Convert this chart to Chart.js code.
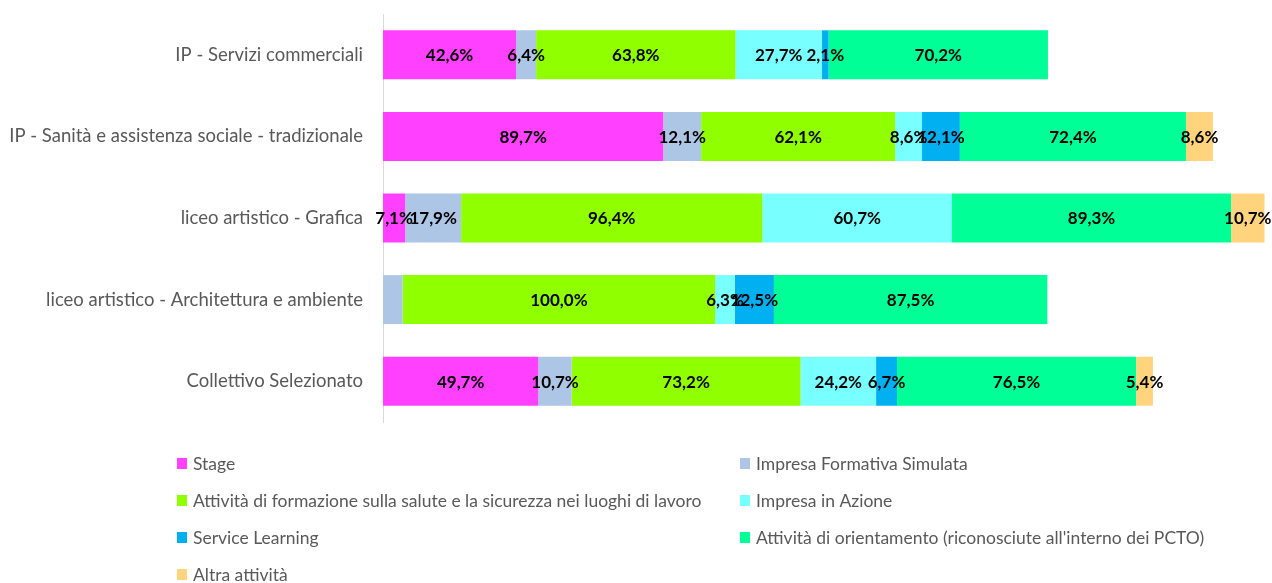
<!DOCTYPE html>
<html>
<head>
<meta charset="utf-8">
<script src="https://cdn.jsdelivr.net/npm/chart.js@4/dist/chart.umd.min.js"></script>
<style>
  html, body { margin: 0; padding: 0; background: #ffffff; }
  #wrap { width: 1272px; height: 583px; position: relative; }
</style>
</head>
<body>
<div id="wrap"><canvas id="c" width="1272" height="583"></canvas></div>
<script>
// Percorsi PCTO per indirizzo di studio (percentuali, possibile risposta multipla)
const categories = [
  'IP - Servizi commerciali',
  'IP - Sanità e assistenza sociale - tradizionale',
  'liceo artistico - Grafica',
  'liceo artistico - Architettura e ambiente',
  'Collettivo Selezionato'
];

const seriesNames = [
  'Stage',
  'Impresa Formativa Simulata',
  'Attività di formazione sulla salute e la sicurezza nei luoghi di lavoro',
  'Impresa in Azione',
  'Service Learning',
  "Attività di orientamento (riconosciute all'interno dei PCTO)",
  'Altra attività'
];

const stage          = [42.6, 89.7, 7.1, null, 49.7];
const impresaFormSim = [6.4, 12.1, 17.9, 6.3, 10.7];
const formSicurezza  = [63.8, 62.1, 96.4, 100.0, 73.2];
const impresaAzione  = [27.7, 8.6, 60.7, 6.3, 24.2];
const serviceLearn   = [2.1, 12.1, null, 12.5, 6.7];
const orientamento   = [70.2, 72.4, 89.3, 87.5, 76.5];
const altraAttivita  = [null, 8.6, 10.7, null, 5.4];

// [serie, categoria] whose value label is not printed
const hiddenLabels = [[1, 3]];

const seriesValues = [stage, impresaFormSim, formSicurezza, impresaAzione, serviceLearn, orientamento, altraAttivita];
const seriesColors = ['#ff40ff', '#adc6e5', '#90ff00', '#78ffff', '#00b0f0', '#00ff96', '#ffd47c'];

const FONT = 'Lato, "Open Sans", sans-serif';

const fmt = v => v.toFixed(1).replace('.', ',') + '%';

const valueLabels = {
  id: 'valueLabels',
  afterDatasetsDraw(chart) {
    const ctx = chart.ctx;
    ctx.save();
    ctx.font = 'bold 17px ' + FONT;
    ctx.fillStyle = '#000000';
    ctx.textAlign = 'center';
    ctx.textBaseline = 'middle';
    chart.data.datasets.forEach((ds, di) => {
      const meta = chart.getDatasetMeta(di);
      meta.data.forEach((bar, i) => {
        const v = ds.data[i];
        if (v === null || v === undefined) return;
        if (hiddenLabels.some(h => h[0] === di && h[1] === i)) return;
        const x = (bar.x + bar.base) / 2;
        ctx.fillText(fmt(v), x, bar.y + 1);
      });
    });
    ctx.restore();
  }
};

const gridLegend = {
  id: 'gridLegend',
  afterDraw(chart) {
    const ctx = chart.ctx;
    ctx.save();
    ctx.font = '17.5px ' + FONT;
    ctx.textBaseline = 'middle';
    ctx.textAlign = 'left';
    const cols = [177, 740];
    const rowY0 = 463, rowStep = 37;
    chart.data.datasets.forEach((ds, i) => {
      const col = i % 2, row = Math.floor(i / 2);
      const x = cols[col], y = rowY0 + row * rowStep;
      ctx.fillStyle = ds.backgroundColor;
      ctx.fillRect(x, y - 5, 10, 11);
      ctx.fillStyle = '#595959';
      ctx.fillText(ds.label, x + 16, y + 1);
    });
    ctx.restore();
  }
};

new Chart(document.getElementById('c'), {
  type: 'bar',
  data: {
    labels: categories,
    datasets: seriesNames.map((name, k) => ({
      label: name,
      data: seriesValues[k],
      backgroundColor: seriesColors[k],
      borderWidth: 0,
      barPercentage: 0.6,
      categoryPercentage: 1.0
    }))
  },
  options: {
    indexAxis: 'y',
    responsive: false,
    animation: false,
    devicePixelRatio: 1,
    layout: { autoPadding: false, padding: { top: 14, bottom: 161, left: 0, right: 0 } },
    plugins: {
      legend: { display: false },
      tooltip: { enabled: false }
    },
    scales: {
      x: {
        stacked: true,
        display: false,
        min: 0,
        max: 284.5
      },
      y: {
        stacked: true,
        afterFit(scale) {
          scale.width = 383;
          scale.paddingTop = 0;
          scale.paddingBottom = 0;
        },
        grid: { display: false, drawTicks: false },
        border: { display: true, color: '#d9d9d9', width: 1 },
        ticks: {
          padding: 20,
          minRotation: 0,
          maxRotation: 0,
          color: '#595959',
          font: { family: FONT, size: 18.5 }
        }
      }
    }
  },
  plugins: [valueLabels, gridLegend]
});
</script>
</body>
</html>
